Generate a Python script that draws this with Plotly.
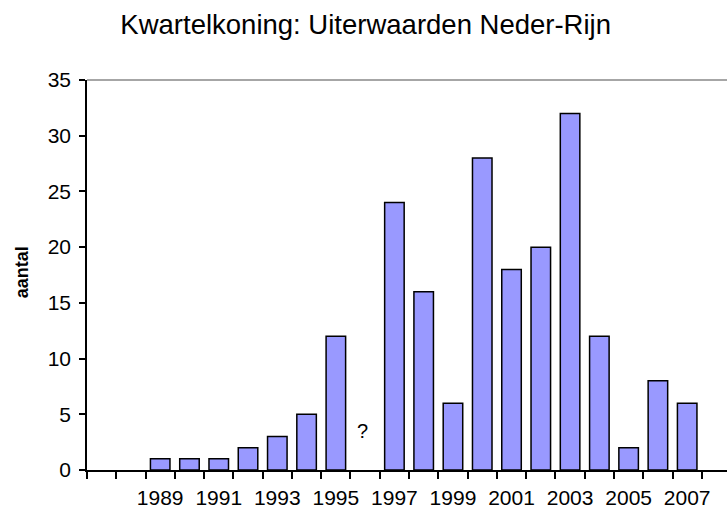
import plotly.graph_objects as go

# Kwartelkoning (corncrake) counts in the Neder-Rijn floodplains
years = [1989, 1990, 1991, 1992, 1993, 1994, 1995, 1996, 1997, 1998,
         1999, 2000, 2001, 2002, 2003, 2004, 2005, 2006, 2007]
counts = [1, 1, 1, 2, 3, 5, 12, None, 24, 16,
          6, 28, 18, 20, 32, 12, 2, 8, 6]
unknown_year = 1996
label_years = [1989, 1991, 1993, 1995, 1997, 1999, 2001, 2003, 2005, 2007]
y_ticks = [0, 5, 10, 15, 20, 25, 30, 35]

FONT = "Liberation Sans, Arial, sans-serif"

fig = go.Figure()
fig.add_trace(go.Bar(
    x=years,
    y=counts,
    width=0.667,
    marker=dict(color="#9999FF", line=dict(color="black", width=1.5)),
    showlegend=False,
))

# category boundaries for the x-axis tick marks
boundaries = [y - 0.5 for y in range(1987, 2010)]

fig.update_layout(
    width=727,
    height=510,
    margin=dict(l=87, r=0, t=80, b=40, pad=0, autoexpand=False),
    paper_bgcolor="white",
    plot_bgcolor="white",
    font=dict(family=FONT, color="black"),
    title=dict(
        text="Kwartelkoning: Uiterwaarden Neder-Rijn",
        font=dict(size=27.5, family=FONT, color="black"),
        x=0.503, xanchor="center",
        y=0.953, yanchor="middle",
    ),
    xaxis=dict(
        range=[1986.5, 2008.36],
        automargin=False,
        tickmode="array",
        tickvals=label_years,
        ticktext=[str(y) for y in label_years],
        ticks="",
        ticklabelstandoff=8,
        tickfont=dict(size=21, family=FONT, color="black"),
        showline=True, linecolor="black", linewidth=1.5,
        showgrid=False, zeroline=False,
        minor=dict(tickvals=boundaries, ticks="outside", ticklen=7,
                   tickcolor="black", tickwidth=1.5, showgrid=False),
    ),
    yaxis=dict(
        range=[0, 35],
        automargin=False,
        tickmode="array",
        tickvals=y_ticks,
        ticks="outside", ticklen=6, tickcolor="black", tickwidth=1.5,
        ticklabelstandoff=4,
        tickfont=dict(size=21, family=FONT, color="black"),
        showline=True, linecolor="black", linewidth=1.5,
        showgrid=False, zeroline=False,
    ),
    shapes=[dict(type="line", xref="paper", yref="paper",
                 x0=0, x1=1, y0=1, y1=1,
                 line=dict(color="#888888", width=1.5))],
    annotations=[
        dict(text="<b>aantal</b>", xref="paper", yref="paper",
             x=-0.1016, y=0.507, xanchor="center", yanchor="middle",
             textangle=-90, showarrow=False,
             font=dict(size=18, family=FONT, color="black")),
        dict(text="?", xref="x", yref="y", x=unknown_year, y=3.5,
             xshift=-3, showarrow=False,
             font=dict(size=20, family=FONT, color="black")),
    ],
)

fig.write_html("out.html")
